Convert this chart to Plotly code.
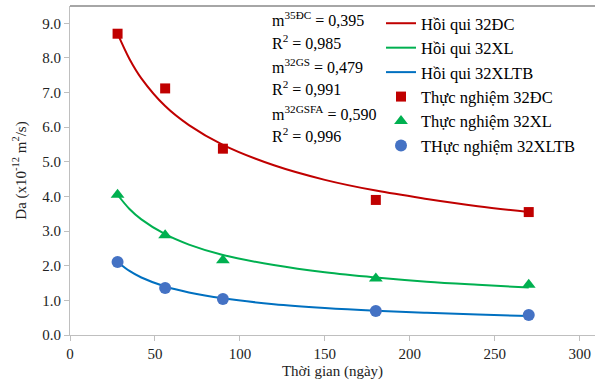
import plotly.graph_objects as go

# Experimental data (days, Da x1e-12 m2/s)
days = [28, 56, 90, 180, 270]
da_32dc = [8.70, 7.12, 5.38, 3.90, 3.55]
da_32xl = [4.05, 2.88, 2.16, 1.63, 1.45]
da_32xltb = [2.11, 1.36, 1.04, 0.69, 0.58]

# Regression curves
fit_days = [28, 35, 42, 56, 70, 90, 120, 150, 180, 210, 240, 270]
fit_32dc = [8.70, 7.97, 7.41, 6.61, 6.06, 5.49, 4.90, 4.48, 4.17, 3.93, 3.72, 3.55]
fit_32xl = [4.05, 3.64, 3.34, 2.91, 2.61, 2.31, 2.02, 1.81, 1.66, 1.54, 1.45, 1.37]
fit_32xltb = [2.11, 1.85, 1.66, 1.40, 1.23, 1.06, 0.89, 0.78, 0.70, 0.64, 0.59, 0.55]

x_ticks = [0, 50, 100, 150, 200, 250, 300]
y_ticks = [0, 1, 2, 3, 4, 5, 6, 7, 8, 9]

RED = "#C00000"
GREEN = "#00B050"
BLUE_LINE = "#0070C0"
BLUE_PT = "#4472C4"
FONT = "Liberation Serif"

fig = go.Figure()
fig.add_trace(go.Scatter(x=fit_days, y=fit_32dc, mode="lines", line=dict(color=RED, width=2, shape="spline"),
                         name="Hồi qui 32ĐC"))
fig.add_trace(go.Scatter(x=fit_days, y=fit_32xl, mode="lines", line=dict(color=GREEN, width=2, shape="spline"),
                         name="Hồi qui 32XL"))
fig.add_trace(go.Scatter(x=fit_days, y=fit_32xltb, mode="lines", line=dict(color=BLUE_LINE, width=2, shape="spline"),
                         name="Hồi qui 32XLTB"))
fig.add_trace(go.Scatter(x=days, y=da_32dc, mode="markers", marker=dict(symbol="square", size=10, color=RED),
                         name="Thực nghiệm 32ĐC"))
fig.add_trace(go.Scatter(x=days, y=da_32xl, mode="markers", marker=dict(symbol="triangle-up", size=12, color=GREEN),
                         name="Thực nghiệm 32XL"))
fig.add_trace(go.Scatter(x=days, y=da_32xltb, mode="markers", marker=dict(symbol="circle", size=12, color=BLUE_PT),
                         name="THực nghiệm 32XLTB"))

ann_texts = ["m<sup>35ĐC</sup> = 0,395", "R<sup>2</sup> = 0,985",
             "m<sup>32GS</sup> = 0,479", "R<sup>2</sup> = 0,991",
             "m<sup>32GSFA</sup> = 0,590", "R<sup>2</sup> = 0,996"]
ann_y = [19, 42, 66, 88, 113, 135]
annotations = []
for t, yy in zip(ann_texts, ann_y):
    annotations.append(dict(text=t, xref="paper", yref="paper", x=(270 - 70) / 525, y=1 - (yy - 6) / 329,
                            xanchor="left", yanchor="middle", showarrow=False,
                            font=dict(family=FONT, size=16, color="#000000")))

fig.update_layout(
    width=595, height=385,
    margin=dict(l=70, r=0, t=6, b=50),
    paper_bgcolor="white", plot_bgcolor="white",
    font=dict(family=FONT, size=15, color="#222222"),
    showlegend=True,
    legend=dict(x=(381 - 70) / 525, y=1 - (6 - 6) / 329, xanchor="left", yanchor="top",
                bgcolor="rgba(0,0,0,0)", font=dict(family=FONT, size=16.5, color="#000000"),
                itemwidth=30, tracegroupgap=0),
    annotations=annotations,
    xaxis=dict(range=[0, 309], tickvals=x_ticks, ticks="outside", ticklen=5, tickcolor="#BFBFBF",
               showline=True, linecolor="#BFBFBF", linewidth=1, showgrid=False, zeroline=False,
               title=dict(text="Thời gian (ngày)", font=dict(family=FONT, size=15, color="#222222"), standoff=4),
               tickfont=dict(family=FONT, size=15, color="#222222")),
    yaxis=dict(range=[0, 9.5], tickvals=y_ticks, tickformat=".1f", ticks="outside", ticklen=5, tickcolor="#BFBFBF",
               showline=True, linecolor="#BFBFBF", linewidth=1, showgrid=False, zeroline=False,
               title=dict(text="Da (x10<sup>-12</sup> m<sup>2</sup>/s)", font=dict(family=FONT, size=15, color="#222222"), standoff=12),
               tickfont=dict(family=FONT, size=15, color="#222222")),
    shapes=[dict(type="line", xref="paper", yref="paper", x0=0, x1=1, y0=1, y1=1,
                 line=dict(color="#A6A6A6", width=2))],
)

fig.write_html("out.html")
